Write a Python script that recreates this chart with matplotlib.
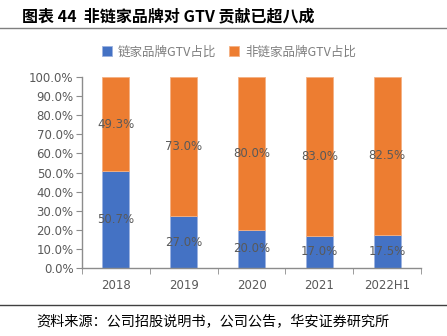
import numpy as np
import matplotlib.pyplot as plt
from matplotlib.ticker import PercentFormatter

plt.rcParams['font.family'] = ['Noto Sans CJK SC', 'DejaVu Sans']

# data
years = ['2018', '2019', '2020', '2021', '2022H1']
lianjia = [50.7, 27.0, 20.0, 17.0, 17.5]
non_lianjia = [49.3, 73.0, 80.0, 83.0, 82.5]

blue = '#4472C4'
orange = '#ED7D31'
grey = '#595959'

fig = plt.figure(figsize=(4.47, 3.36), dpi=100)
ax = fig.add_axes([82 / 447, 1 - 268 / 336, 339 / 447, 191 / 336])

x = np.arange(len(years))
ax.bar(x, lianjia, width=0.4, color=blue, edgecolor='#9DB3E0', linewidth=0.6,
       label='链家品牌GTV占比')
ax.bar(x, non_lianjia, width=0.4, bottom=lianjia, color=orange, edgecolor='#F4B183',
       linewidth=0.6, label='非链家品牌GTV占比')

for i in range(len(years)):
    ax.text(x[i], lianjia[i] / 2, f'{lianjia[i]:.1f}%', ha='center', va='center',
            fontsize=8.5, color=grey, family='DejaVu Sans')
    ax.text(x[i], lianjia[i] + non_lianjia[i] / 2, f'{non_lianjia[i]:.1f}%', ha='center',
            va='center', fontsize=8.5, color=grey, family='DejaVu Sans')

ax.set_xlim(-0.5, len(years) - 0.5)
ax.set_ylim(0, 100)
ax.set_yticks(np.arange(0, 101, 10))
ax.yaxis.set_major_formatter(PercentFormatter(decimals=1))
ax.set_xticks(x)
ax.set_xticklabels(years)
ax.set_xticks(np.arange(-0.5, len(years), 1), minor=True)
ax.tick_params(axis='x', which='major', length=0, pad=8, labelsize=8.5, labelcolor=grey)
ax.tick_params(axis='x', which='minor', length=4, color='#8c8c8c', direction='out')
ax.tick_params(axis='y', length=4, color='#8c8c8c', labelsize=8.5, labelcolor=grey, pad=2)
for lab in ax.get_xticklabels() + ax.get_yticklabels():
    lab.set_family('DejaVu Sans')
for s in ['top', 'right']:
    ax.spines[s].set_visible(False)
for s in ['left', 'bottom']:
    ax.spines[s].set_color('#8c8c8c')
    ax.spines[s].set_linewidth(1.0)

fig.legend(loc='center', bbox_to_anchor=(229 / 447, 1 - 52 / 336), ncol=2, frameon=False,
           fontsize=9, handlelength=0.8, handleheight=0.8, handletextpad=0.5,
           columnspacing=1.0, labelcolor='#7f7f7f')

fig.text(22 / 447, 1 - 16 / 336, '图表 44  非链家品牌对 GTV 贡献已超八成', fontsize=11.5,
         fontweight='bold', va='center', ha='left', color='black')
fig.add_artist(plt.Line2D([0, 1], [1 - 28 / 336] * 2, color='#7f7f7f', linewidth=1.0))
fig.add_artist(plt.Line2D([0, 1], [1 - 305 / 336] * 2, color='#404040', linewidth=1.0))
fig.text(36 / 447, 1 - 322 / 336, '资料来源：公司招股说明书，公司公告，华安证券研究所', fontsize=10.2,
         va='center', ha='left', color='black')

fig.savefig('out.png', dpi=100)
